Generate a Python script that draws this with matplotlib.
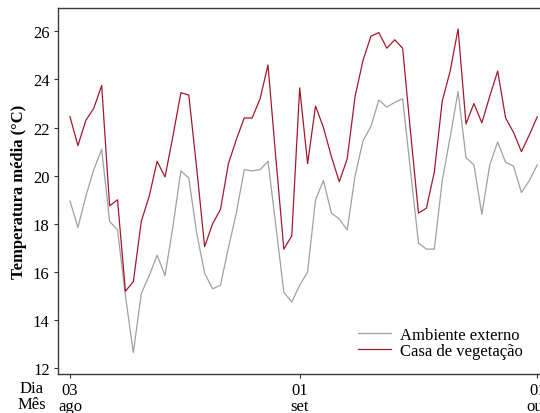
"""Temperatura média diária: ambiente externo vs casa de vegetação."""
import matplotlib
matplotlib.use("Agg")
import matplotlib.pyplot as plt
import matplotlib.dates as mdates
import pandas as pd

# daily values, 03 ago -> 01 out
dates = pd.date_range("2021-08-03", "2021-10-01", freq="D")

externo = [18.95, 17.85, 19.15, 20.25, 21.1, 18.1, 17.75, 15.0, 12.65, 15.1,
           15.85, 16.7, 15.85, 17.9, 20.2, 19.9, 17.6, 15.95, 15.3, 15.45,
           17.0, 18.45, 20.25, 20.2, 20.25, 20.6, 17.9, 15.15, 14.75, 15.45,
           16.0, 19.0, 19.8, 18.45, 18.2, 17.75, 20.0, 21.45, 22.05, 23.15,
           22.85, 23.05, 23.2, 20.2, 17.2, 16.95, 16.95, 19.8, 21.6, 23.5,
           20.75, 20.45, 18.4, 20.45, 21.4, 20.55, 20.4, 19.3, 19.8, 20.45]

casa = [22.45, 21.25, 22.3, 22.8, 23.75, 18.75, 19.0, 15.2, 15.6, 18.1,
        19.15, 20.6, 19.95, 21.65, 23.45, 23.35, 20.3, 17.05, 18.0, 18.6,
        20.5, 21.5, 22.4, 22.4, 23.2, 24.6, 20.7, 16.95, 17.5, 23.65,
        20.5, 22.9, 22.0, 20.8, 19.75, 20.7, 23.3, 24.8, 25.8, 25.95,
        25.3, 25.65, 25.3, 21.8, 18.45, 18.65, 20.15, 23.1, 24.35, 26.1,
        22.15, 23.0, 22.2, 23.3, 24.35, 22.4, 21.8, 21.0, 21.7, 22.45]

tick_dates = ["2021-08-03", "2021-09-01", "2021-10-01"]
tick_labels = ["03\nago", "01\nset", "01\nout"]
yticks = [12, 14, 16, 18, 20, 22, 24, 26]

plt.rcParams["font.family"] = ["Liberation Serif", "DejaVu Serif"]

W, H = 540, 414
fig = plt.figure(figsize=(W / 100, H / 100), dpi=100)
ax = fig.add_axes([58 / W, 1 - 375 / H, 1 - 58 / W, (375 - 9) / H])

ax.plot(dates, externo, color="#a0a0a0", lw=0.9, label="Ambiente externo")
ax.plot(dates, casa, color="#a01a2c", lw=0.9, label="Casa de vegetação")

x0 = mdates.date2num(dates[0])
ax.set_xlim(x0 - 12 / 7.92, x0 + (540 - 70) / 7.92)
ax.set_ylim(11.76, 26.97)

ax.set_xticks(pd.to_datetime(tick_dates))
# the last label sits on the right edge and is cut, as in the original
ax.set_xticklabels(tick_labels, linespacing=1.0)
ax.set_yticks(yticks)
ax.tick_params(labelsize=12, length=3, width=0.8, pad=3, color="#333333")

for side in ["top", "left", "bottom"]:
    ax.spines[side].set_color("#3a3a3a")
    ax.spines[side].set_linewidth(1.0)
ax.spines["right"].set_visible(False)

ax.set_ylabel("Temperatura média (°C)", fontsize=12, fontweight="bold", labelpad=4)

fig.text(32 / W, 1 - 381 / H, "Dia\nMês", ha="center", va="top", fontsize=12,
         linespacing=1.0)

ax.legend(loc="upper left", bbox_to_anchor=(343 / W, 1 - 313 / H),
          bbox_transform=fig.transFigure, frameon=False, fontsize=12,
          handlelength=2.0, labelspacing=0.0, handletextpad=0.5)

fig.savefig("out.png", dpi=100)
plt.close(fig)
